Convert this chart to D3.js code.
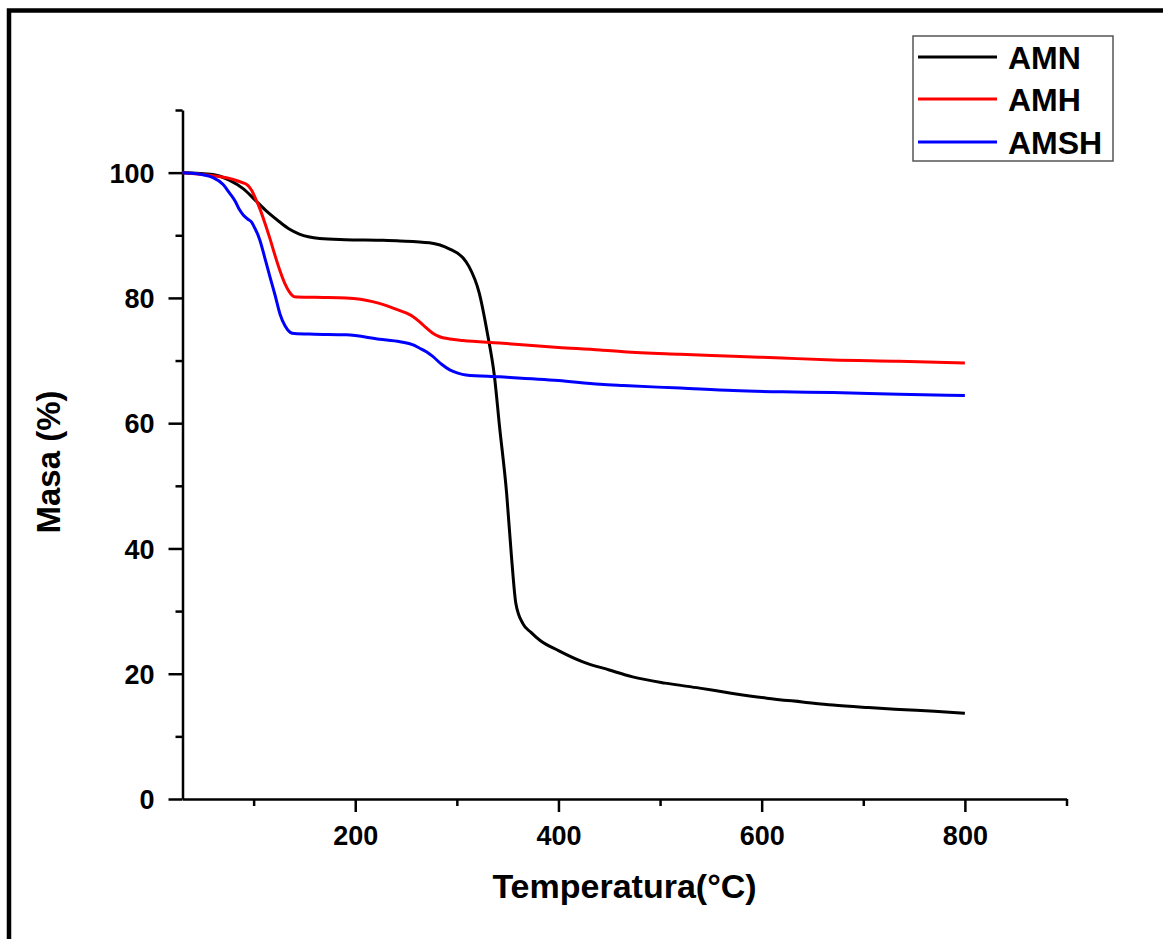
<!DOCTYPE html>
<html>
<head>
<meta charset="utf-8">
<script src="https://cdn.jsdelivr.net/npm/d3@7"></script>
<style>
  body { margin: 0; background: #fff; }
  text { font-family: "Liberation Sans", Arial, sans-serif; font-weight: bold; fill: #000; }
</style>
</head>
<body>
<div id="chart"></div>
<script>
// TGA curves: temperature (°C) and mass (%)
var tempAMN = [30, 60, 76, 90, 101, 113, 125, 135, 145, 165, 190, 224, 244, 273, 293, 306, 312, 322, 330, 337, 342, 349, 354, 358, 365, 373, 382, 400, 424, 450, 473, 505, 539, 570, 605, 640, 670, 705, 736, 770, 800]
var massAMN = [100, 99.7, 98.8, 97.4, 95.7, 93.8, 92.2, 91.0, 90.2, 89.5, 89.3, 89.2, 89.1, 88.8, 87.8, 86.4, 85.0, 80.8, 74.4, 67.5, 59.5, 48.8, 38.2, 31.3, 28.0, 26.6, 25.3, 23.7, 21.9, 20.6, 19.5, 18.5, 17.7, 16.9, 16.1, 15.5, 15.0, 14.6, 14.3, 14.0, 13.7]

var tempAMH = [30, 60, 80, 89, 94, 98, 102, 106, 111, 116, 121, 126, 131, 135, 138, 140, 160, 191, 205, 217, 230, 240, 250, 257, 264, 270, 276, 283, 293, 306, 342, 400, 441, 464, 520, 572, 620, 670, 735, 800]
var massAMH = [100, 99.5, 98.9, 98.4, 98.0, 97.2, 95.8, 94.3, 92.0, 89.5, 86.8, 84.3, 82.2, 81.0, 80.4, 80.2, 80.1, 80.0, 79.8, 79.4, 78.8, 78.2, 77.6, 77.0, 76.1, 75.2, 74.4, 73.8, 73.45, 73.2, 72.8, 72.1, 71.7, 71.4, 71.0, 70.7, 70.4, 70.1, 69.9, 69.6]

var tempAMSH = [30, 45, 60, 70, 76, 82, 86, 90, 94, 98, 101, 106, 111, 116, 121, 126, 131, 136, 140, 160, 191, 224, 244, 257, 263, 270, 276, 285, 293, 301, 309, 342, 400, 441, 464, 520, 572, 620, 670, 735, 800]
var massAMSH = [100, 99.8, 99.2, 98.1, 96.8, 95.4, 94.1, 93.2, 92.6, 92.1, 91.2, 89.3, 86.4, 83.4, 80.5, 77.4, 75.5, 74.5, 74.3, 74.2, 74.1, 73.4, 73.0, 72.5, 72.0, 71.4, 70.7, 69.4, 68.5, 68.0, 67.7, 67.4, 66.8, 66.2, 66.0, 65.6, 65.2, 65.0, 64.9, 64.6, 64.4]

var seriesNames = ["AMN", "AMH", "AMSH"]
var seriesColors = ["#000000", "#ff0000", "#0000ff"]

var xMajorTicks = [200, 400, 600, 800]
var xMinorTicks = [100, 300, 500, 700, 900]
var yMajorTicks = [0, 20, 40, 60, 80, 100]
var yMinorTicks = [10, 30, 50, 70, 90, 110]

var W = 1163, H = 939
var plotLeft = 182.5, plotRight = 1066.5, plotTop = 110, plotBottom = 799

var svg = d3.select("#chart").append("svg")
    .attr("width", W)
    .attr("height", H)

// outer frame
svg.append("rect")
    .attr("x", 9).attr("y", 10.5)
    .attr("width", 1160).attr("height", 1000)
    .attr("fill", "none")
    .attr("stroke", "#000")
    .attr("stroke-width", 4.5)

var x = d3.scaleLinear().domain([30, 900]).range([plotLeft, plotRight])
var y = d3.scaleLinear().domain([0, 110]).range([plotBottom, plotTop])

// axes - major ticks with labels, minor ticks without
var xAxis = svg.append("g")
    .attr("transform", "translate(0," + plotBottom + ")")
    .call(d3.axisBottom(x).tickValues(xMajorTicks).tickSize(13).tickPadding(13).tickSizeOuter(0))
svg.append("g")
    .attr("transform", "translate(0," + plotBottom + ")")
    .call(d3.axisBottom(x).tickValues(xMinorTicks).tickSize(7).tickFormat("").tickSizeOuter(0))
    .select(".domain").remove()

var yAxis = svg.append("g")
    .attr("transform", "translate(" + plotLeft + ",0)")
    .call(d3.axisLeft(y).tickValues(yMajorTicks).tickSize(14).tickPadding(14).tickSizeOuter(0))
svg.append("g")
    .attr("transform", "translate(" + plotLeft + ",0)")
    .call(d3.axisLeft(y).tickValues(yMinorTicks).tickSize(7).tickFormat("").tickSizeOuter(0))
    .select(".domain").remove()

svg.selectAll(".domain").attr("stroke", "#000").attr("stroke-width", 2.5)
svg.selectAll(".tick line").attr("stroke", "#000").attr("stroke-width", 2.5)
svg.selectAll(".tick text")
    .style("font-family", "'Liberation Sans', Arial, sans-serif")
    .style("font-weight", "bold")
    .style("font-size", "27px")
    .attr("fill", "#000")
xAxis.selectAll(".tick text").attr("dy", "0.75em")
yAxis.selectAll(".tick text").attr("dy", "0.36em")

// curves
var allSeries = [
    d3.zip(tempAMN, massAMN),
    d3.zip(tempAMH, massAMH),
    d3.zip(tempAMSH, massAMSH)
]

var line = d3.line()
    .x(function(d) { return x(d[0]) })
    .y(function(d) { return y(d[1]) })
    .curve(d3.curveMonotoneX)

svg.append("g").selectAll("path")
    .data(allSeries)
    .enter().append("path")
    .attr("d", line)
    .attr("fill", "none")
    .attr("stroke", function(d, i) { return seriesColors[i] })
    .attr("stroke-width", 3)
    .attr("stroke-linejoin", "round")

// axis titles
svg.append("text")
    .attr("x", 624.5)
    .attr("y", 898)
    .attr("text-anchor", "middle")
    .style("font-size", "34px")
    .text("Temperatura(°C)")

svg.append("text")
    .attr("transform", "translate(60,462) rotate(-90)")
    .attr("text-anchor", "middle")
    .style("font-size", "33px")
    .text("Masa (%)")

// legend
var legend = svg.append("g")
legend.append("rect")
    .attr("x", 913).attr("y", 36)
    .attr("width", 200).attr("height", 125)
    .attr("fill", "#fff")
    .attr("stroke", "#555")
    .attr("stroke-width", 1.5)

var rowY = [57, 99, 142]
legend.selectAll(".legend-line")
    .data(seriesNames)
    .enter().append("line")
    .attr("class", "legend-line")
    .attr("x1", 918).attr("x2", 997)
    .attr("y1", function(d, i) { return rowY[i] })
    .attr("y2", function(d, i) { return rowY[i] })
    .attr("stroke", function(d, i) { return seriesColors[i] })
    .attr("stroke-width", 3)

legend.selectAll(".legend-label")
    .data(seriesNames)
    .enter().append("text")
    .attr("class", "legend-label")
    .attr("x", 1008)
    .attr("y", function(d, i) { return rowY[i] + 12 })
    .style("font-size", "32px")
    .text(function(d) { return d })
</script>
</body>
</html>
